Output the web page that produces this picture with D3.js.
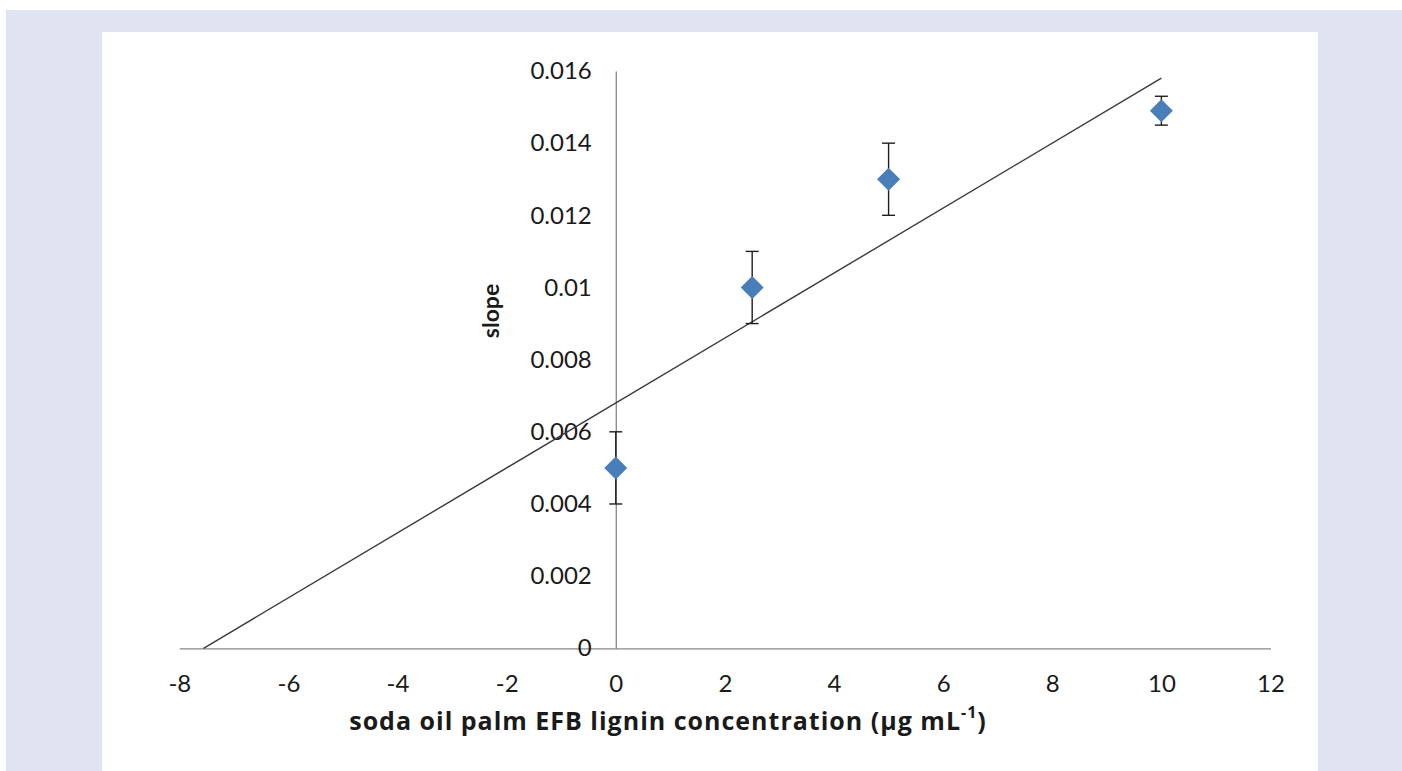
<!DOCTYPE html>
<html>
<head>
<meta charset="utf-8">
<script src="https://cdn.jsdelivr.net/npm/d3@7"></script>
<style>
  html, body { margin: 0; padding: 0; background: #ffffff; }
  svg { display: block; }
  text { font-family: Lato, "Open Sans", "Liberation Sans", sans-serif; fill: #1a1a1a; font-variant-ligatures: none; }
  .title { font-family: "Open Sans", Lato, sans-serif; font-weight: bold; letter-spacing: 1px; }
</style>
</head>
<body>
<svg id="chart" width="1402" height="771"></svg>
<script>
// Lignin concentration (µg/mL) vs. measured slope, with standard deviation
const concentrations = [0, 2.5, 5, 10];
const slopes = [0.005, 0.010, 0.013, 0.0149];
const slopeErrors = [0.001, 0.001, 0.001, 0.0004];

// Linear trendline, extended back to its x-intercept
const trendSlope = 0.0009;
const trendIntercept = 0.0068;

const xTicks = [-8, -6, -4, -2, 0, 2, 4, 6, 8, 10, 12];
const yTicks = [0, 0.002, 0.004, 0.006, 0.008, 0.01, 0.012, 0.014, 0.016];

const svg = d3.select("#chart");

// Framing background and white chart area
svg.append("rect").attr("x", 6).attr("y", 10).attr("width", 1396).attr("height", 761).attr("fill", "#e0e3f1");
svg.append("rect").attr("x", 102).attr("y", 32).attr("width", 1216).attr("height", 739).attr("fill", "#ffffff");

const x = d3.scaleLinear().domain([-8, 12]).range([179.3, 1270.5]);
const y = d3.scaleLinear().domain([0, 0.016]).range([648.3, 71]);

// Axes cross at the origin
const xAxis = d3.axisBottom(x).tickValues(xTicks).tickSize(0).tickPadding(24)
  .tickFormat(d => d3.format("d")(d).replace("−", "-"));
const gx = svg.append("g").attr("transform", `translate(0,${y(0)})`).call(xAxis);
gx.select(".domain").attr("stroke", "#878787").attr("stroke-width", 1.3);
gx.selectAll("text").attr("font-size", 24).attr("fill", "#1a1a1a").attr("dy", "0.35em").attr("y", 35);

const yAxis = d3.axisLeft(y).tickValues(yTicks).tickSize(0).tickPadding(24)
  .tickFormat(d => d === 0 ? "0" : String(+d.toFixed(3)));
const gy = svg.append("g").attr("transform", `translate(${x(0)},0)`).call(yAxis);
gy.select(".domain").attr("stroke", "#878787").attr("stroke-width", 1.3);
gy.selectAll("text").attr("font-size", 24).attr("fill", "#1a1a1a");

// Trendline
const xStart = -trendIntercept / trendSlope;
const line = d3.line().x(d => x(d)).y(d => y(trendIntercept + trendSlope * d));
svg.append("path").datum([xStart, 10]).attr("d", line)
  .attr("fill", "none").attr("stroke", "#3a3a3a").attr("stroke-width", 1.4);

// Error bars
const pts = concentrations.map((c, i) => ({ c, v: slopes[i], e: slopeErrors[i] }));
const eb = svg.append("g").attr("stroke", "#1e1e1e").attr("stroke-width", 1.4);
pts.forEach(p => {
  eb.append("line").attr("x1", x(p.c)).attr("x2", x(p.c)).attr("y1", y(p.v - p.e)).attr("y2", y(p.v + p.e));
  [p.v - p.e, p.v + p.e].forEach(v => {
    eb.append("line").attr("x1", x(p.c) - 6.5).attr("x2", x(p.c) + 6.5).attr("y1", y(v)).attr("y2", y(v));
  });
});

// Diamond markers
svg.append("g").selectAll("path").data(pts).join("path")
  .attr("d", d => {
    const cx = x(d.c), cy = y(d.v), r = 11.5;
    return `M${cx},${cy - r}L${cx + r},${cy}L${cx},${cy + r}L${cx - r},${cy}Z`;
  })
  .attr("fill", "#4a7ebb");

// Axis titles
const xt = svg.append("text").attr("class", "title").attr("x", 668).attr("y", 723).attr("text-anchor", "middle")
  .attr("dominant-baseline", "middle").attr("font-size", 25);
xt.append("tspan").text("soda oil palm EFB lignin concentration (µg mL");
xt.append("tspan").text("-1").attr("font-size", 16).attr("dy", -9);
xt.append("tspan").text(")").attr("dy", 9);

svg.append("text").attr("transform", "translate(493,311) rotate(-90)")
  .attr("text-anchor", "middle").attr("dominant-baseline", "middle")
  .attr("font-size", 23).attr("font-weight", "bold").text("slope");
</script>
</body>
</html>
